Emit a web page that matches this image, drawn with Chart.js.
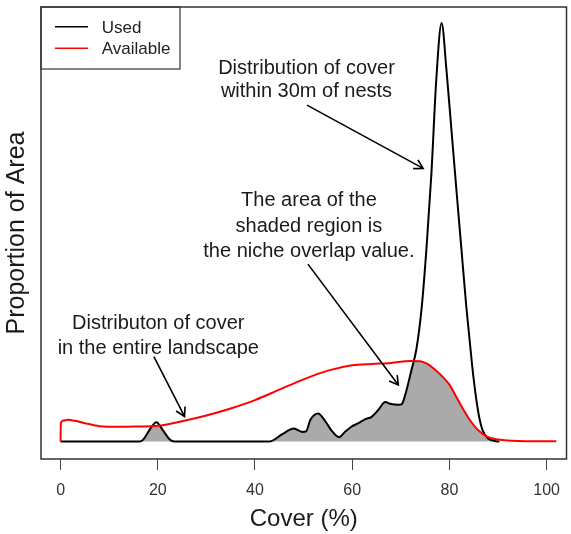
<!DOCTYPE html>
<html><head><meta charset="utf-8">
<script src="https://cdn.jsdelivr.net/npm/chart.js@4.4.1/dist/chart.umd.min.js"></script>
<style>html,body{margin:0;padding:0;background:#fff;} #wrap{width:571px;height:534px;position:relative;}</style>
</head><body><div id="wrap"><canvas id="c"></canvas></div>
<script>
// ---- data ----
const xTicks = [0, 20, 40, 60, 80, 100];
const seriesNames = ['Used', 'Available'];

const usedCover = [0, 16.2, 17, 18.3, 19.7, 21, 22.4, 23.4, 42.9, 43.5, 45.6, 48, 49.7, 50.5, 51.4, 53, 54.5, 55.8, 57.3, 58.6, 59.9, 61.3, 62.7, 64, 65.4, 66.8, 67.8, 69.5, 70.2, 70.9, 72.2, 73.2, 74.3, 75.3, 76.3, 77.3, 78.4, 79.4, 80.4, 81.4, 82.45, 83.5, 84.7, 85.5, 86.2, 86.8, 87.9, 89.3, 90.3];
const usedValue = [0, 0, 0.0006, 0.0035, 0.0058, 0.0035, 0.0007, 0, 0, 0.0002, 0.0022, 0.0039, 0.0029, 0.0030, 0.0065, 0.0084, 0.0060, 0.0032, 0.0013, 0.0030, 0.0045, 0.0055, 0.0067, 0.0074, 0.0095, 0.0118, 0.0113, 0.0110, 0.0112, 0.0139, 0.0214, 0.0275, 0.0400, 0.0580, 0.0800, 0.1080, 0.1250, 0.1110, 0.0935, 0.0760, 0.0580, 0.0400, 0.0225, 0.0130, 0.0068, 0.0035, 0.0010, 0.0002, 0];

const availCover = [0, 0.05, 0.6, 1.5, 3, 5, 8, 12, 16, 20, 25, 30, 35, 40, 45, 50, 55, 60, 64, 68, 72, 74, 75.5, 77, 78.5, 80, 82, 84, 86, 88, 90, 92, 96, 102];
const availValue = [0, 0.0055, 0.0063, 0.0065, 0.0062, 0.0055, 0.0046, 0.0044, 0.0045, 0.0047, 0.0061, 0.0078, 0.0099, 0.0124, 0.0155, 0.0186, 0.0212, 0.0228, 0.0232, 0.0235, 0.0241, 0.0240, 0.0232, 0.0215, 0.0195, 0.0170, 0.0118, 0.0069, 0.0033, 0.0013, 0.0006, 0.0003, 0.0001, 0.0001];

// top edge of the grey (overlap) region
const shadedCover = [16.2, 17, 18.3, 19.2, 19.7, 20.3, 21, 22.4, 23.4, 42.9, 43.5, 45.6, 48, 49.7, 50.5, 51.4, 53, 54.5, 55.8, 57.3, 58.6, 59.9, 61.3, 62.7, 64, 65.4, 66.8, 67.8, 69.5, 70.2, 70.9, 72.2, 72.7, 74, 75.5, 77, 78.5, 80, 82, 84, 86, 87.5, 87.9, 89.3, 90.3];
const shadedValue = [0, 0.0006, 0.0035, 0.0046, 0.0047, 0.0047, 0.0035, 0.0007, 0, 0, 0.0002, 0.0022, 0.0039, 0.0029, 0.0030, 0.0065, 0.0084, 0.0060, 0.0032, 0.0013, 0.0030, 0.0045, 0.0055, 0.0067, 0.0074, 0.0095, 0.0118, 0.0113, 0.0110, 0.0112, 0.0139, 0.0214, 0.0241, 0.0240, 0.0232, 0.0215, 0.0195, 0.0170, 0.0118, 0.0069, 0.0033, 0.0014, 0.0010, 0.0002, 0];

const noteTexts = [
  ['Distribution of cover', 'within 30m of nests'],
  ['The area of the', 'shaded region is', 'the niche overlap value.'],
  ['Distributon of cover', 'in the entire landscape']
];
const noteAnchorX = [50.6, 51.1, 20.1];
const noteLineY = [[0.1115, 0.1045], [0.0719, 0.0642, 0.0567], [0.0353, 0.0279]];
// arrows: [fromCover, fromValue, toCover, toValue]
const arrowEnds = [[50.7, 0.1005, 74.6, 0.0816], [50.9, 0.0530, 69.5, 0.0169], [19.2, 0.0254, 25.5, 0.0075]];

const toXY = (xs, ys) => xs.map((x, i) => ({x: x, y: ys[i]}));
const FONT = '"Liberation Sans", Arial, sans-serif';

const decor = {
  id: 'decor',
  afterDraw(chart) {
    const ctx = chart.ctx, a = chart.chartArea;
    const xs = chart.scales.x, ys = chart.scales.y;
    ctx.save();
    // plot box
    ctx.strokeStyle = '#333';
    ctx.lineWidth = 1.5;
    ctx.strokeRect(a.left, a.top, a.right - a.left, a.bottom - a.top);
    // legend box
    const L = a.left, T = a.top;
    ctx.lineWidth = 1.2;
    ctx.strokeRect(L, T, 139, 62);
    const ds = [chart.data.datasets[0], chart.data.datasets[1]];
    ctx.font = '17px ' + FONT;
    ctx.textAlign = 'left';
    ctx.textBaseline = 'middle';
    ds.forEach((d, i) => {
      const y = T + 19.7 + i * 21.6;
      ctx.strokeStyle = d.borderColor;
      ctx.lineWidth = 1.5;
      ctx.beginPath(); ctx.moveTo(L + 14, y); ctx.lineTo(L + 47, y); ctx.stroke();
      ctx.fillStyle = '#222';
      ctx.fillText(d.label, L + 60.7, y + 1.5);
    });
    // annotation text
    ctx.font = '20px ' + FONT;
    ctx.textAlign = 'center';
    ctx.fillStyle = '#1a1a1a';
    noteTexts.forEach((lines, k) => {
      lines.forEach((t, i) => {
        ctx.fillText(t, xs.getPixelForValue(noteAnchorX[k]), ys.getPixelForValue(noteLineY[k][i]));
      });
    });
    // arrows
    ctx.strokeStyle = '#000';
    ctx.lineWidth = 1.6;
    arrowEnds.forEach(e => {
      const x0 = xs.getPixelForValue(e[0]), y0 = ys.getPixelForValue(e[1]);
      const x1 = xs.getPixelForValue(e[2]), y1 = ys.getPixelForValue(e[3]);
      const ang = Math.atan2(y1 - y0, x1 - x0);
      const h = 10, sp = Math.PI / 6;
      ctx.beginPath();
      ctx.moveTo(x0, y0); ctx.lineTo(x1, y1);
      ctx.moveTo(x1 - h * Math.cos(ang - sp), y1 - h * Math.sin(ang - sp));
      ctx.lineTo(x1, y1);
      ctx.lineTo(x1 - h * Math.cos(ang + sp), y1 - h * Math.sin(ang + sp));
      ctx.stroke();
    });
    ctx.restore();
  }
};

new Chart(document.getElementById('c'), {
  type: 'line',
  data: {
    datasets: [
      {label: seriesNames[0], data: toXY(usedCover, usedValue), borderColor: '#000000', borderWidth: 2,
       pointRadius: 0, fill: false, cubicInterpolationMode: 'monotone', order: 2},
      {label: seriesNames[1], data: toXY(availCover, availValue), borderColor: '#ff0000', borderWidth: 2,
       pointRadius: 0, fill: false, cubicInterpolationMode: 'monotone', order: 1},
      {label: 'Overlap', data: toXY(shadedCover, shadedValue), borderWidth: 0, borderColor: 'rgba(0,0,0,0)',
       backgroundColor: '#aaaaaa', fill: 'origin', pointRadius: 0, cubicInterpolationMode: 'monotone', order: 3}
    ]
  },
  options: {
    responsive: true, maintainAspectRatio: false, devicePixelRatio: 1, animation: false,
    layout: {padding: {top: 7, right: 2, left: 0, bottom: 0}},
    plugins: {legend: {display: false}, tooltip: {enabled: false}},
    scales: {
      x: {
        type: 'linear', min: -4.03, max: 104.1,
        afterBuildTicks: s => { s.ticks = xTicks.map(v => ({value: v})); },
        afterFit: s => { s.height = 75; },
        ticks: {font: {family: FONT, size: 16}, color: '#333', padding: 11, maxRotation: 0, autoSkip: false,
                callback: v => String(v)},
        grid: {drawOnChartArea: false, drawTicks: true, tickLength: 11, color: '#444', lineWidth: 1},
        border: {display: false},
        title: {display: true, text: 'Cover (%)', font: {family: FONT, size: 24}, color: '#1a1a1a',
                padding: {top: 0, bottom: 0}}
      },
      y: {
        type: 'linear', min: -0.0052, max: 0.1298,
        afterFit: s => { s.width = 41; },
        ticks: {display: false},
        grid: {display: false},
        border: {display: false},
        title: {display: true, text: 'Proportion of Area', font: {family: FONT, size: 25}, color: '#1a1a1a',
                padding: {top: 2, bottom: 0}}
      }
    }
  },
  plugins: [decor]
});
</script>
</body></html>
